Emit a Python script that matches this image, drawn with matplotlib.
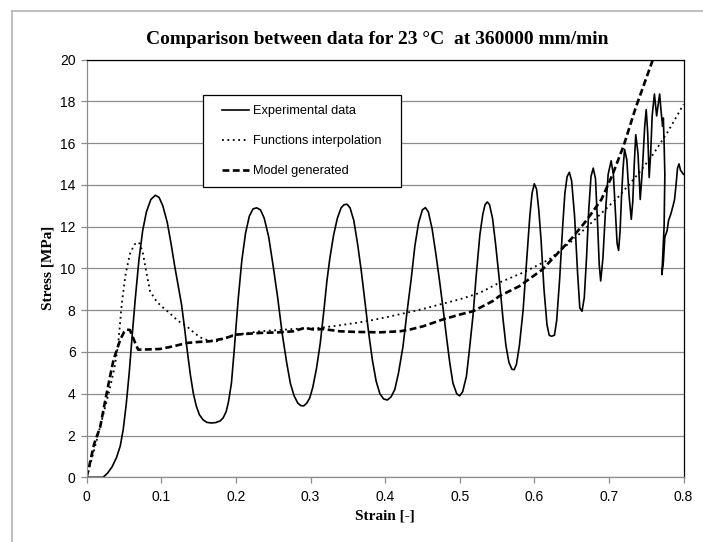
import matplotlib
matplotlib.use("Agg")
import matplotlib.pyplot as plt
from matplotlib.lines import Line2D
from matplotlib.legend_handler import HandlerLine2D

exp_strain = [0.000, 0.010, 0.022, 0.028, 0.034, 0.040, 0.045, 0.049, 0.053, 0.057,
              0.061, 0.065, 0.070, 0.075, 0.080, 0.086, 0.092, 0.097, 0.102, 0.108,
              0.113, 0.118, 0.123, 0.127, 0.131, 0.135, 0.139, 0.143, 0.147, 0.151,
              0.156, 0.161, 0.167, 0.173, 0.179, 0.183, 0.187, 0.190, 0.194, 0.198,
              0.203, 0.208, 0.213, 0.218, 0.223, 0.228, 0.233, 0.238, 0.244, 0.250,
              0.256, 0.262, 0.268, 0.273, 0.278, 0.283, 0.287, 0.291, 0.295, 0.299,
              0.303, 0.308, 0.313, 0.318, 0.322, 0.326, 0.331, 0.336, 0.341, 0.345,
              0.349, 0.353, 0.358, 0.363, 0.368, 0.373, 0.378, 0.383, 0.388, 0.393,
              0.398, 0.403, 0.408, 0.413, 0.418, 0.424, 0.429, 0.435, 0.440, 0.445,
              0.450, 0.454, 0.458, 0.463, 0.468, 0.473, 0.478, 0.482, 0.487, 0.491,
              0.496, 0.500, 0.504, 0.509, 0.513, 0.518, 0.522, 0.527, 0.531, 0.534,
              0.537, 0.540, 0.544, 0.548, 0.553, 0.558, 0.562, 0.566, 0.570, 0.573,
              0.576, 0.580, 0.585, 0.590, 0.594, 0.597, 0.600, 0.603, 0.606, 0.609,
              0.613, 0.617, 0.620, 0.623, 0.627, 0.630, 0.634, 0.638, 0.641, 0.644,
              0.647, 0.650, 0.654, 0.658, 0.661, 0.664, 0.667, 0.670, 0.673, 0.676,
              0.679, 0.682, 0.685, 0.687, 0.689, 0.692, 0.695, 0.699, 0.703, 0.706,
              0.709, 0.711, 0.713, 0.715, 0.717, 0.719, 0.721, 0.724, 0.727, 0.730,
              0.732, 0.734, 0.736, 0.739, 0.742, 0.745, 0.748, 0.750, 0.752, 0.754,
              0.756, 0.758, 0.761, 0.764, 0.768, 0.770, 0.772, 0.773, 0.774, 0.775,
              0.774, 0.772, 0.771, 0.773, 0.775, 0.778, 0.780, 0.783, 0.786, 0.788,
              0.790, 0.792, 0.794, 0.796, 0.798, 0.800]
exp_stress = [0.00, 0.00, 0.00, 0.20, 0.50, 0.95, 1.50, 2.30, 3.50, 5.00,
              6.80, 8.50, 10.40, 11.80, 12.70, 13.30, 13.50, 13.40, 13.00, 12.20,
              11.20, 10.10, 9.10, 8.30, 7.20, 6.00, 4.90, 4.00, 3.40, 3.00,
              2.75, 2.63, 2.60, 2.62, 2.70, 2.85, 3.15, 3.60, 4.50, 6.20,
              8.50, 10.40, 11.70, 12.50, 12.85, 12.90, 12.80, 12.40, 11.50, 10.10,
              8.60, 6.90, 5.50, 4.50, 3.90, 3.55, 3.43, 3.42, 3.55, 3.80,
              4.30, 5.20, 6.40, 8.00, 9.40, 10.50, 11.60, 12.40, 12.90, 13.05,
              13.07, 12.90, 12.30, 11.20, 9.90, 8.40, 6.90, 5.60, 4.60, 4.00,
              3.75, 3.70, 3.85, 4.20, 5.00, 6.27, 7.80, 9.50, 11.10, 12.20,
              12.80, 12.91, 12.70, 11.90, 10.70, 9.40, 8.00, 6.80, 5.40, 4.50,
              4.00, 3.90, 4.10, 4.83, 6.10, 7.80, 9.60, 11.60, 12.60, 13.05,
              13.18, 13.05, 12.40, 11.20, 9.50, 7.60, 6.30, 5.50, 5.17, 5.15,
              5.40, 6.30, 8.00, 10.50, 12.50, 13.60, 14.05, 13.80, 12.80, 11.40,
              9.00, 7.30, 6.80, 6.75, 6.80, 7.50, 9.50, 12.00, 13.60, 14.40,
              14.60, 14.20, 12.50, 9.80, 8.10, 7.95, 8.60, 10.50, 12.80, 14.40,
              14.80, 14.30, 12.00, 10.20, 9.40, 10.50, 12.50, 14.50, 15.15, 14.50,
              12.50, 11.20, 10.86, 11.80, 13.50, 14.80, 15.70, 15.20, 13.50, 12.35,
              13.20, 15.00, 16.40, 15.50, 13.30, 14.80, 16.80, 17.60, 16.50, 14.35,
              15.50, 17.30, 18.35, 17.30, 18.35, 17.50, 16.80, 17.20, 16.00, 14.50,
              12.00, 10.50, 9.70, 10.30, 11.50, 11.80, 12.30, 12.60, 13.00, 13.30,
              14.00, 14.80, 15.00, 14.70, 14.60, 14.50]

# functions interpolation
fun_strain = [0.000, 0.010, 0.020, 0.030, 0.037, 0.042, 0.047, 0.052, 0.058, 0.064,
              0.070, 0.075, 0.080, 0.085, 0.094, 0.103, 0.111, 0.122, 0.134, 0.143,
              0.152, 0.163, 0.174, 0.185, 0.196, 0.215, 0.232, 0.259, 0.277, 0.299,
              0.312, 0.340, 0.375, 0.400, 0.428, 0.450, 0.473, 0.500, 0.527, 0.555,
              0.585, 0.620, 0.650, 0.680, 0.714, 0.741, 0.760, 0.780, 0.800]
fun_stress = [0.00, 1.30, 2.70, 4.10, 5.20, 6.30, 8.30, 9.70, 10.70, 11.15,
              11.25, 10.80, 9.80, 8.90, 8.40, 8.10, 7.87, 7.50, 7.23, 6.95,
              6.70, 6.55, 6.51, 6.65, 6.80, 6.90, 6.99, 7.05, 7.10, 7.13,
              7.15, 7.28, 7.47, 7.65, 7.87, 8.05, 8.27, 8.52, 8.83, 9.35,
              9.80, 10.43, 11.30, 12.30, 13.47, 14.60, 15.50, 16.60, 17.85]

# model generated
mod_strain = [0.000, 0.005, 0.010, 0.018, 0.025, 0.030, 0.036, 0.045, 0.050, 0.054,
              0.058, 0.062, 0.065, 0.069, 0.080, 0.098, 0.116, 0.134, 0.150, 0.165,
              0.185, 0.200, 0.232, 0.259, 0.277, 0.292, 0.305, 0.317, 0.339, 0.360,
              0.393, 0.420, 0.433, 0.451, 0.477, 0.500, 0.518, 0.544, 0.553, 0.580,
              0.611, 0.651, 0.670, 0.690, 0.705, 0.720, 0.736, 0.760, 0.775]
mod_stress = [0.00, 0.80, 1.60, 2.40, 3.70, 4.60, 5.63, 6.59, 6.95, 7.07,
              7.05, 6.70, 6.43, 6.11, 6.12, 6.14, 6.27, 6.43, 6.48, 6.51,
              6.65, 6.83, 6.91, 6.94, 6.99, 7.15, 7.07, 7.10, 6.99, 6.96,
              6.94, 6.99, 7.07, 7.23, 7.55, 7.79, 7.95, 8.43, 8.67, 9.15,
              9.95, 11.47, 12.30, 13.30, 14.50, 15.90, 17.70, 20.10, 21.60]

xticks = [0, 0.1, 0.2, 0.3, 0.4, 0.5, 0.6, 0.7, 0.8]
xtick_labels = ["0", "0.1", "0.2", "0.3", "0.4", "0.5", "0.6", "0.7", "0.8"]
yticks = [0, 2, 4, 6, 8, 10, 12, 14, 16, 18, 20]

W, H = 703, 542
fig = plt.figure(figsize=(W / 100, H / 100), dpi=100)
ax = fig.add_axes([86.7 / W, 1 - 477.3 / H, (683.5 - 86.7) / W, (477.3 - 59.5) / H])

ax.plot(exp_strain, exp_stress, color="black", lw=1.2, label="Experimental data")
ax.plot(fun_strain, fun_stress, color="black", lw=1.3, dashes=(1, 2.0),
        label="Functions interpolation")
ax.plot(mod_strain, mod_stress, color="black", lw=1.9, dashes=(2.6, 1.3),
        label="Model generated")

ax.set_xlim(0, 0.8)
ax.set_ylim(0, 20)
ax.set_xticks(xticks)
ax.set_xticklabels(xtick_labels)
ax.set_yticks(yticks)
ax.yaxis.grid(True, color="#8c8c8c", lw=0.9)
ax.set_axisbelow(True)

for s in ["top", "right"]:
    ax.spines[s].set_color("black")
    ax.spines[s].set_linewidth(0.9)
for s in ["left", "bottom"]:
    ax.spines[s].set_color("#8c8c8c")
    ax.spines[s].set_linewidth(0.9)
ax.tick_params(direction="out", length=4, width=0.9, color="#8c8c8c",
               labelsize=10, labelcolor="black")
ax.tick_params(axis="y", pad=4)
ax.tick_params(axis="x", pad=5)
for lab in ax.get_xticklabels() + ax.get_yticklabels():
    lab.set_fontfamily("Liberation Sans")

leg = ax.legend(loc="upper left", bbox_to_anchor=((203 - 86.7) / 596.8, (477.3 - 95) / 417.8,
                                                   (401 - 203) / 596.8, 0.0),
                mode="expand", borderaxespad=0, fancybox=False, frameon=True,
                edgecolor="black", framealpha=1,
                prop={"family": "Liberation Sans", "size": 9.2},
                handlelength=2.8, handletextpad=0.3, labelspacing=1.42, borderpad=0.79,
                handler_map={Line2D: HandlerLine2D(xpad=0.7)})
leg.get_frame().set_linewidth(0.9)

serif = "Liberation Serif"
fig.text(0.537, 1 - 39 / H, "Comparison between data for 23 \u00b0C  at 360000 mm/min",
         ha="center", va="center", fontfamily=serif, fontweight="bold", fontsize=14)
fig.text(48 / W, 1 - 268 / H, "Stress [MPa]", rotation=90, ha="center", va="center",
         fontfamily=serif, fontweight="bold", fontsize=11)
fig.text(385 / W, 1 - 516 / H, "Strain [-]", ha="center", va="center",
         fontfamily=serif, fontweight="bold", fontsize=11)

# outer chart border (light gray, runs off the image on right and bottom)
fig.add_artist(Line2D([12 / W, 1.0], [1 - 11 / H, 1 - 11 / H], transform=fig.transFigure,
                      color="#c0c0c0", lw=1.5))
fig.add_artist(Line2D([12 / W, 12 / W], [0.0, 1 - 11 / H], transform=fig.transFigure,
                      color="#c0c0c0", lw=1.5))

fig.savefig("out.png", dpi=100)
